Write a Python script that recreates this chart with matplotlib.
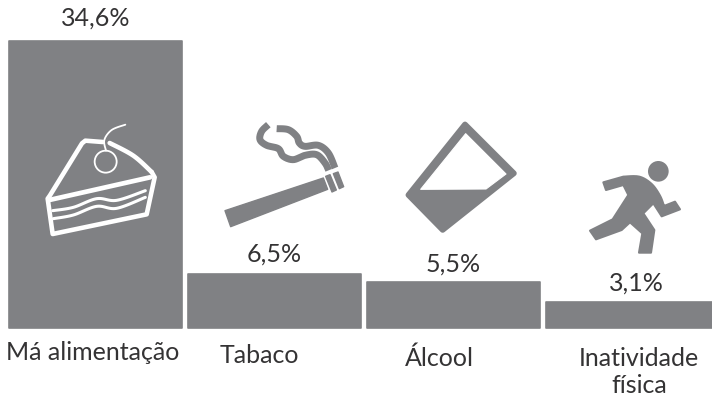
import matplotlib
matplotlib.use("Agg")
import matplotlib.pyplot as plt
import numpy as np
from matplotlib.patches import Circle, Ellipse, Polygon

categories = ["Má alimentação", "Tabaco", "Álcool", "Inatividade\nfísica"]
values = [34.6, 6.5, 5.5, 3.1]

GREY = "#808184"
INK = "#343334"
plt.rcParams["font.family"] = ["Lato", "DejaVu Sans"]


def smooth(points, n=14):
    # catmull-rom through the given points, used for the icon curves
    p = np.array(points, dtype=float)
    p = np.vstack([p[0], p, p[-1]])
    out = []
    for i in range(1, len(p) - 2):
        for t in np.linspace(0, 1, n, endpoint=False):
            a, b, c, d = p[i - 1], p[i], p[i + 1], p[i + 2]
            out.append(0.5 * (2 * b + (c - a) * t + (2 * a - 5 * b + 4 * c - d) * t**2
                              + (3 * b - a - 3 * c + d) * t**3))
    out.append(p[-2])
    return np.array(out)


def stroke(ax, pts, color, lw, cap="round"):
    pts = np.asarray(pts)
    ax.plot(pts[:, 0], pts[:, 1], color=color, lw=lw, solid_capstyle=cap,
            solid_joinstyle="round")


def grid(pts, x0, y0):
    # icon outlines are noted on a 3x grid with their own origin
    return np.array(pts, dtype=float) / 3 + [x0, y0]


def draw_cake(ax):
    def g(pts):
        return grid(pts, 40, 120)

    outline = [(188, 66), (136, 62), (126, 70), (30, 226), (23, 236), (38, 342),
               (320, 283), (344, 172), (335, 156)]
    stroke(ax, g(outline), "white", 3.3)
    stroke(ax, g(smooth([(335, 156), (280, 107), (209, 69)])), "white", 3.3)
    stroke(ax, g([(28, 240), (330, 172)]), "white", 3.4)
    stroke(ax, g(smooth([(38, 272), (100, 262), (170, 236), (230, 241), (316, 212)])), "white", 2.2)
    stroke(ax, g(smooth([(40, 296), (100, 285), (170, 259), (230, 265), (316, 232)])), "white", 2.2)
    ax.add_patch(Ellipse(g([(197, 125)])[0], 66 / 3, 66 / 3, fc="none", ec="white", lw=1.3))
    stroke(ax, g(smooth([(198, 92), (193, 60), (215, 30), (256, 14)])), "white", 1.3)


def draw_cigarette(ax):
    for pts in ([(675, 632), (970, 534), (983, 568), (692, 680)],
                [(977, 529), (990, 524), (1009, 570), (996, 576)],
                [(1000, 521), (1014, 516), (1031, 560), (1018, 566)]):
        ax.add_patch(Polygon(grid(pts, 0, 0), fc=GREY, ec=GREY, lw=1, joinstyle="round"))
    strand_a = [(55, 20), (35, 40), (30, 65), (50, 82), (85, 92), (100, 115), (130, 125),
                (165, 112), (200, 110), (225, 135), (236, 157)]
    strand_b = [(80, 32), (115, 35), (140, 55), (148, 75), (165, 85), (205, 82), (235, 105),
                (255, 150)]
    stroke(ax, grid(smooth(strand_a), 250, 118), GREY, 5, "butt")
    stroke(ax, grid(smooth(strand_b), 250, 118), GREY, 5, "butt")


def draw_glass(ax):
    ax.add_patch(Polygon(grid([(315, 73), (462, 220), (248, 390), (145, 285)], 360, 100), fc=GREY,
                         ec=GREY, lw=4, joinstyle="round"))
    ax.add_patch(Polygon(grid([(317, 101), (438, 222), (378, 267), (182, 268)], 360, 100), fc="white",
                         ec="white", lw=0.8, joinstyle="round"))


def draw_runner(ax):
    ax.add_patch(Circle(grid([(895, 214)], 360, 100)[0], 31 / 3, fc=GREY, ec="none"))
    back = smooth([(790, 230), (838, 230), (875, 252), (900, 287), (912, 318)], n=6)
    body = [(730, 247)] + [tuple(q) for q in back] + [
        (945, 305), (960, 328), (905, 349), (880, 310), (850, 340), (883, 390),
        (873, 458), (837, 458), (847, 400), (810, 367), (785, 390), (708, 418),
        (690, 392), (758, 358), (805, 285), (790, 255), (738, 270)]
    ax.add_patch(Polygon(grid(body, 360, 100), fc=GREY, ec=GREY, lw=1.5, joinstyle="round"))


fig = plt.figure(figsize=(7.12, 3.98), dpi=100)

ax = fig.add_axes([0, 0, 1, 1])
positions = np.arange(len(values))
ax.bar(positions, values, width=173.5 / 179, color=GREY, edgecolor=GREY, lw=1.2,
       joinstyle="round")
ax.set_xlim(-95.5 / 179, (712 - 95.5) / 179)
ax.set_ylim(-70 / 8.295, 327.5 / 8.295)
ax.axis("off")

# value labels sit just above each bar, name labels under the baseline
label_dx = [0.0, 0.0, 0.0, 0.024]
label_gap = [1.8, 1.45, 1.25, 1.36]
for i, v in enumerate(values):
    ax.text(i + label_dx[i], v + label_gap[i], f"{v:.1f}%".replace(".", ","), ha="center",
            va="baseline", fontsize=18, color=INK)

name_dx = [-0.016, -0.087, -0.08, 0.036]
name_y = [-3.86, -4.2, -4.55, -7.8]
for i, name in enumerate(categories):
    ax.text(i + name_dx[i], name_y[i], name, ha="center", va="baseline", fontsize=18,
            color=INK, linespacing=1.2)

# icons are drawn on a second layer in pixel units
icons = fig.add_axes([0, 0, 1, 1])
icons.set_xlim(0, 712)
icons.set_ylim(398, 0)
icons.axis("off")
icons.patch.set_alpha(0)
draw_cake(icons)
draw_cigarette(icons)
draw_glass(icons)
draw_runner(icons)

fig.savefig("out.png", dpi=100)
